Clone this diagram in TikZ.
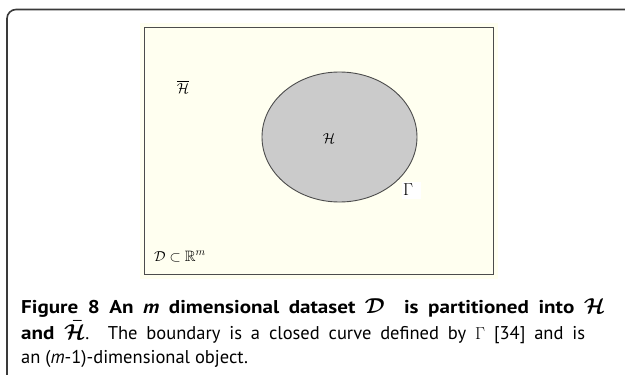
\documentclass[tikz,border=0pt]{standalone}
\usepackage{amsmath,amssymb}
\usepackage{fontspec}
\setmainfont{PT Sans}[BoldFeatures={FakeStretch=1.14},BoldItalicFeatures={FakeStretch=1.14}]
\definecolor{cream}{HTML}{FFFFF0}
\definecolor{framegray}{HTML}{3A3A3A}
\definecolor{blobgray}{HTML}{CBCBCB}
\newcommand{\bigcal}[1]{\scalebox{1.25}{$\boldsymbol{#1}$}}
\tikzset{
  outerframe/.style={draw=framegray, line width=1.6pt, rounded corners=9pt},
  region/.style={draw=black!70, line width=1pt, fill=cream},
  blob/.style={draw=black!70, line width=0.9pt, fill=blobgray},
  lbl/.style={inner sep=0pt, font=\fontsize{15}{18}\selectfont},
  capline/.style={inner sep=0pt, anchor=base west, font=\fontsize{18.5}{26}\selectfont}
}
\begin{document}
\begin{tikzpicture}[x=1pt,y=-1pt]
\useasboundingbox (0,0) rectangle (625,375);
\begin{scope}
  \clip (0,0) rectangle (625,375);
  \draw[outerframe] (7,9.5) rectangle (634,392);
\end{scope}
% picture
\fill[cream] (140,23) rectangle (498,279);
\draw[region] (144,27) rectangle (493,274);
\draw[blob] (339.5,137) ellipse [x radius=77.5, y radius=65];
\node[lbl] (hbar) at (183,87) {$\overline{\mathcal{H}}$};
\node[lbl] (hin) at (329,139) {$\mathcal{H}$};
\node[fill=white, inner sep=0pt, minimum width=19pt, minimum height=17pt] (gbox) at (411.5,190.5) {};
\node[lbl, font=\fontsize{18}{20}\selectfont] (gamma) at (408,190) {$\Gamma$};
\node[lbl, anchor=base west] (dset) at (154,261) {$\mathcal{D}\subset\mathbb{R}^m$};
% caption
\node[capline] (c1) at (21,313) {\makebox[584pt][s]{\textbf{Figure 8 An \textit{m} dimensional dataset \bigcal{\mathcal{D}}\ \ is partitioned into \bigcal{\mathcal{H}}}}};
\node[capline] (c2) at (21,339) {\makebox[564pt][s]{\textbf{and \bigcal{\bar{\mathcal{H}}}}. The boundary is a closed curve defined by $\Gamma$ [34] and is}};
\node[capline] (c3) at (21,363) {an (\textit{m}-1)-dimensional object.};
\end{tikzpicture}
\end{document}
